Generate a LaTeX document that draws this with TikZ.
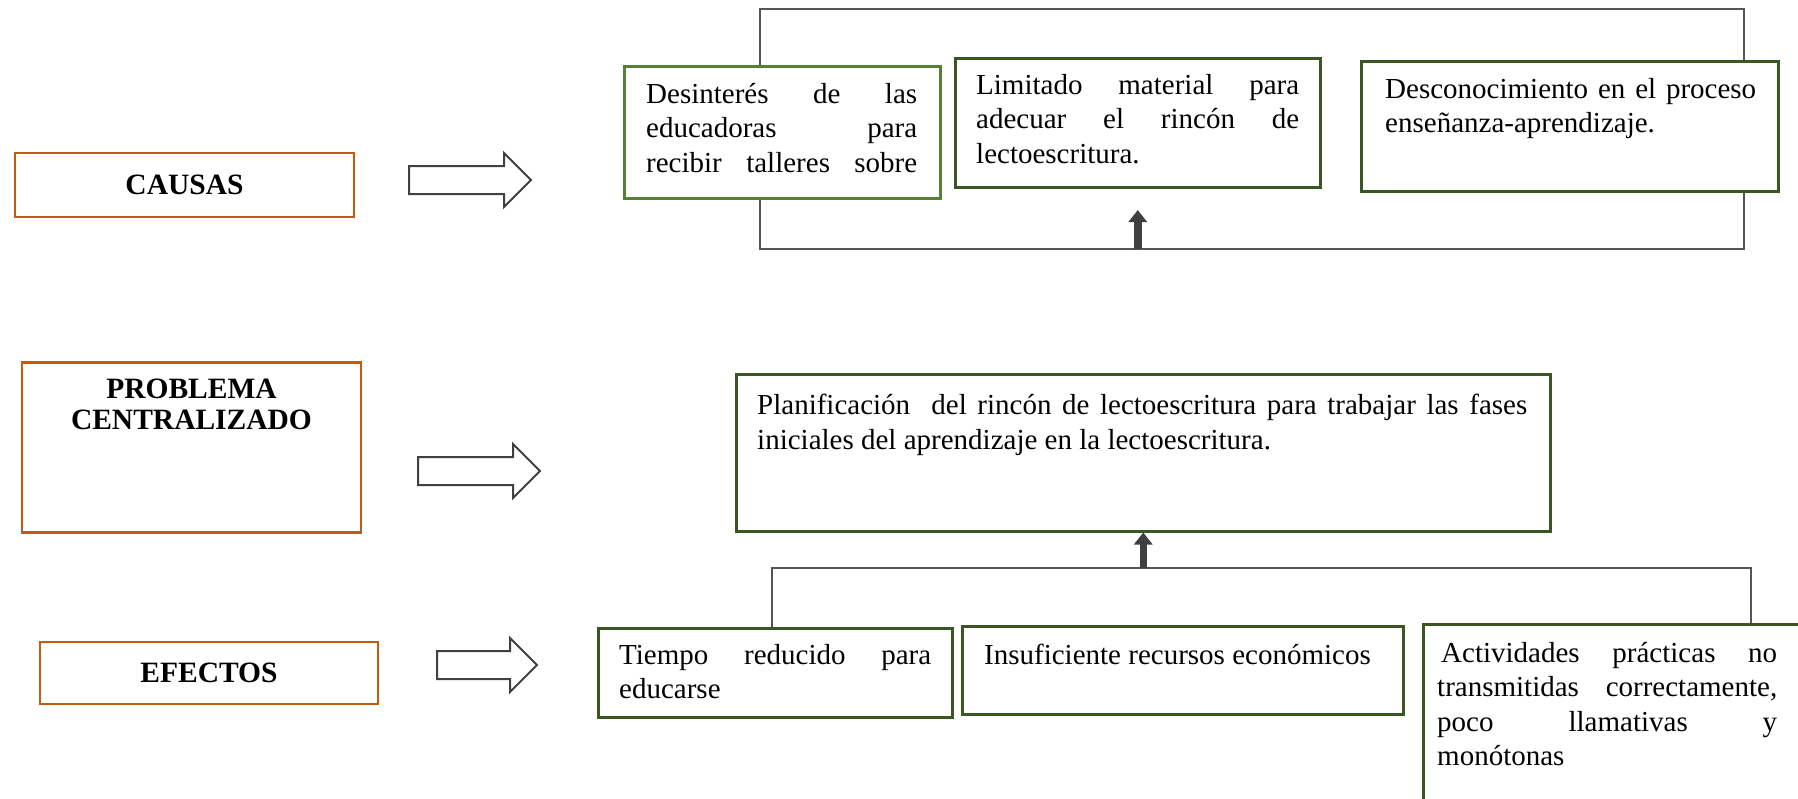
\documentclass[tikz,border=0pt]{standalone}
\usepackage{fontspec}
\setmainfont{Liberation Serif}
\usetikzlibrary{arrows.meta,shapes.arrows}
\definecolor{orangeline}{RGB}{197,90,17}
\definecolor{darkgreen}{RGB}{56,87,35}
\definecolor{lightgreen}{RGB}{84,130,53}
\definecolor{linegray}{RGB}{85,85,85}
\definecolor{arrowgray}{RGB}{64,64,64}
\tikzset{
  labelbox/.style={draw=orangeline, line width=2.5pt, inner sep=0pt,
    font=\bfseries\fontsize{29.5}{31}\selectfont},
  labeltext/.style={inner sep=0pt, align=center, anchor=north,
    font=\bfseries\fontsize{29.5}{31}\selectfont},
  greenbox/.style={draw=darkgreen, line width=2.5pt, inner sep=0pt, anchor=north west},
  boxtext/.style={anchor=north west, inner sep=0pt, align=justify,
    font=\fontsize{29}{34.5}\selectfont},
  blockarrow/.style={single arrow, draw=arrowgray, line width=2pt, anchor=tail,
    inner sep=13pt, minimum width=52pt, single arrow head extend=13pt},
  bracket/.style={draw=linegray, line width=1.3pt},
  uparrow/.style={draw=arrowgray, line width=7.5pt, -{Triangle[length=12pt,width=18pt]}}
}
\begin{document}
\begin{tikzpicture}[x=1pt, y=-1pt]
  \useasboundingbox (0,0) rectangle (1798,798);
  \clip (0,0) rectangle (1798,798);

  % causas
  \node[labelbox, minimum width=339pt, minimum height=64pt] (causas) at (184.5,185) {CAUSAS};
  \node[blockarrow, minimum height=122pt] (flechaCausas) at (408,180) {};
  \node[greenbox, draw=lightgreen, minimum width=316pt, minimum height=132pt] (desint) at (623,65) {};
  \node[greenbox, minimum width=365pt, minimum height=129pt] (limit) at (954,57) {};
  \node[greenbox, minimum width=417pt, minimum height=130pt] (descon) at (1360,60) {};
  \node[boxtext, text width=271pt] (desintTxt) at (646,83)
    {Desinterés de las\linebreak educadoras para\linebreak recibir talleres sobre\linebreak\mbox{}};
  \node[boxtext, text width=323pt] (limitTxt) at (976,74)
    {Limitado material para\linebreak adecuar el rincón de\linebreak lectoescritura.};
  \node[boxtext, text width=371pt] (desconTxt) at (1385,78)
    {Desconocimiento en el proceso\linebreak enseñanza-aprendizaje.};
  \coordinate (tl) at (760,9);
  \coordinate (tr) at (1744,9);
  \coordinate (bl) at (760,249);
  \coordinate (br) at (1744,249);
  \draw[bracket] (tl |- desint.north) -- (tl) -- (tr) -- (tr |- descon.north);
  \draw[bracket] (tl |- desint.south) -- (bl) -- (br) -- (tr |- descon.south);
  \draw[uparrow] (limit.south |- bl) -- ++(0,-39);

  % problema
  \node[labelbox, minimum width=339pt, minimum height=170pt, anchor=north] (problema) at (191.5,361) {};
  \node[labeltext] (problemaTxt) at (191.5,379) {PROBLEMA\\CENTRALIZADO};
  \node[blockarrow, minimum height=122pt] (flechaProblema) at (417,471) {};
  \node[greenbox, minimum width=814pt, minimum height=157pt] (plan) at (735,373) {};
  \node[boxtext, text width=770pt] (planTxt) at (757,394)
    {Planificación\ \ del rincón de lectoescritura para trabajar las fases\linebreak
     iniciales del aprendizaje en la lectoescritura.};

  % efectos
  \node[labelbox, minimum width=338pt, minimum height=62pt] (efectos) at (209,673) {EFECTOS};
  \node[blockarrow, minimum height=100pt] (flechaEfectos) at (436,665) {};
  \node[greenbox, minimum width=354pt, minimum height=89pt] (tiempo) at (597,627) {};
  \node[greenbox, minimum width=441pt, minimum height=88pt] (insuf) at (961,625) {};
  \node[greenbox, minimum width=400pt, minimum height=200pt] (activ) at (1422,623) {};
  \node[boxtext, text width=312pt] (tiempoTxt) at (619,644)
    {Tiempo reducido para\linebreak educarse};
  \node[boxtext, text width=400pt] (insufTxt) at (984,644)
    {Insuficiente recursos económicos};
  \node[boxtext, text width=340pt] (activTxt) at (1437,642)
    {\hspace{4pt}Actividades prácticas no\linebreak transmitidas correctamente,\linebreak
     poco llamativas y\linebreak monótonas};
  \coordinate (el) at (772,568);
  \coordinate (er) at (1751,568);
  \draw[bracket] (el |- tiempo.north) -- (el) -- (er) -- (er |- activ.north);
  \draw[uparrow] (plan.south |- el) -- (plan.south);
\end{tikzpicture}
\end{document}
